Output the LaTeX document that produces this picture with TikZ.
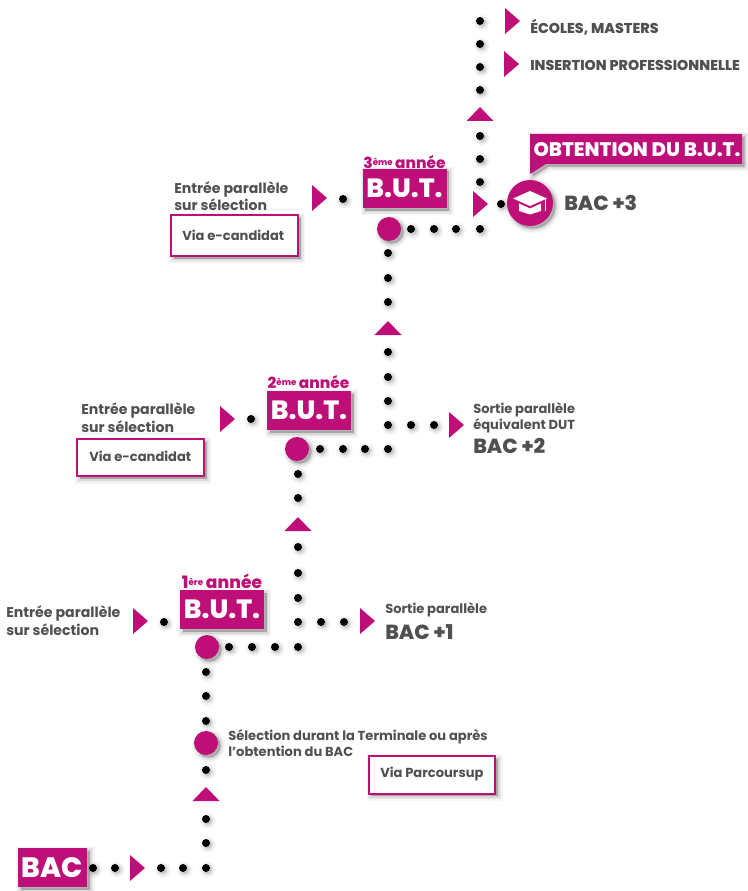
\documentclass[tikz,border=0pt]{standalone}
\usepackage{fontspec}
\setmainfont{Poppins}
\newcommand{\pbold}{\fontspec{Poppins Bold}}
\newcommand{\pxbold}{\fontspec{Poppins ExtraBold}}
\definecolor{mag}{HTML}{BE0F78}
\definecolor{gr}{HTML}{505050}
\tikzset{
  softsh/.style={
    preaction={fill=black,fill opacity=.035,draw=black,draw opacity=.035,line width=7,transform canvas={shift={(#1,-#1)}}},
    preaction={fill=black,fill opacity=.05,draw=black,draw opacity=.05,line width=4.5,transform canvas={shift={(#1,-#1)}}},
    preaction={fill=black,fill opacity=.07,draw=black,draw opacity=.07,line width=2.5,transform canvas={shift={(#1,-#1)}}},
    preaction={fill=black,fill opacity=.1,transform canvas={shift={(#1,-#1)}}}},
  softdot/.style={
    preaction={fill=black,fill opacity=.03,draw=black,draw opacity=.03,line width=6,transform canvas={shift={(#1,-#1)}}},
    preaction={fill=black,fill opacity=.04,draw=black,draw opacity=.04,line width=4,transform canvas={shift={(#1,-#1)}}},
    preaction={fill=black,fill opacity=.05,draw=black,draw opacity=.05,line width=2,transform canvas={shift={(#1,-#1)}}}},
  dotnode/.style={circle,fill=black,minimum size=6pt,inner sep=0,softdot=1.3pt},
  bignode/.style={circle,fill=mag,minimum size=18pt,inner sep=0,softsh=2pt},
  butbox/.style={fill=mag,text=white,minimum width=63pt,minimum height=29.5pt,inner sep=0,font=\pxbold\fontsize{19.8}{22}\selectfont,softsh=2pt},
  anneelab/.style={text=mag,inner sep=0,font=\pxbold\fontsize{11.5}{12}\selectfont},
  body/.style={text=gr,inner sep=0,anchor=west,font=\pbold\fontsize{10.6}{13}\selectfont},
  smallbody/.style={body,font=\pbold\fontsize{9.8}{12}\selectfont},
  capsbody/.style={body,font=\pxbold\fontsize{10.7}{12}\selectfont},
  bigbody/.style={text=gr,inner sep=0,anchor=west,font=\pxbold\fontsize{15.3}{16}\selectfont},
  viabox/.style={draw=mag,line width=1.5pt,fill=white,inner sep=0,softsh=2pt},
  arrowtri/.style={fill=mag,draw=none},
}
\newcommand{\rtri}[2]{\fill[arrowtri] (#1,#2-13) -- (#1+15,#2) -- (#1,#2+13) -- cycle;}
\newcommand{\utri}[2]{\fill[arrowtri] (#1-13.5,#2+7) -- (#1,#2-7) -- (#1+13.5,#2+7) -- cycle;}
\begin{document}
\begin{tikzpicture}[x=0.75pt,y=-0.75pt]
\useasboundingbox (0,0) rectangle (747,891);
% dots
\foreach \x/\y [count=\i] in {
 480/21,480/44,480/67,480/90,480/136,480/159,480/182,480/229,456/229,434/229,411/229,501/204,343/199,
 388/253,388/278,388/302,388/352,388/377,388/401,388/425,411/425,434/425,251/419,
 388/449,365/449,343/449,320/449,298/474,298/498,298/547,298/573,298/598,298/622,321/622,344/622,164/622,
 298/647,275/647,252/647,229/647,206/672,206/696,206/721,206/770,206/819,206/843,206/868,183/868,161/868,115/868,93/868}
  \node[dotnode] (d\i) at (\x,\y) {};
% big circles
\node[bignode] (c3) at (389,229) {};
\node[bignode] (c2) at (297,449) {};
\node[bignode] (c1) at (207,647) {};
\node[bignode] (c0) at (206,743) {};
% triangles
\rtri{505}{21}\rtri{504}{64}\utri{480}{114}\rtri{473}{204}\rtri{312}{198}
\utri{388}{328}\rtri{449}{425}\rtri{220}{419}
\utri{298}{524}\rtri{360}{621}\rtri{133}{621}
\utri{206}{794}\rtri{130}{868}
% top labels
\node[capsbody] (t1) at (530,27) {ÉCOLES, MASTERS};
\node[capsbody] (t2) at (530,65) {INSERTION PROFESSIONNELLE};
% obtention
\fill[mag,softsh=2pt] (530,134) -- (742,134) -- (742,164) -- (546,164) -- (530,174) -- cycle;
\node[text=white,inner sep=0,font=\pxbold\fontsize{14.7}{15}\selectfont] (ob) at (637,149.5) {OBTENTION DU B.U.T.};
% grad
\node[circle,fill=mag,minimum size=34.5pt,inner sep=0,softsh=2pt] (gc) at (530,203) {};
\fill[white] (530,191) -- (547,198.5) -- (530,206) -- (513,198.5) -- cycle;
\fill[white] (519,203.5) -- (530,208.5) -- (541,203.5) -- (541,211) -- (530,214.5) -- (519,211) -- cycle;
\fill[white] (545,199) rectangle (546.2,211);
\node[bigbody] (b3) at (564,203) {BAC +3};
% year 3
\node[anneelab] (a3) at (404.5,162) {3\raisebox{2.2pt}{\fontsize{6.5}{7}\selectfont ème}\,année};
\node[butbox] (u3) at (404.5,188.5) {B.U.T.};
\node[body,align=left] (e3) at (174,196) {Entrée parallèle\\sur sélection};
\node[viabox,minimum width=95pt,minimum height=30.5pt] (v3) at (234.5,235.5) {};
\node[smallbody] (vt3) at (182,235) {Via e-candidat};
% year 2
\node[anneelab] (a2) at (308.5,382) {2\raisebox{2.2pt}{\fontsize{6.5}{7}\selectfont ème}\,année};
\node[butbox] (u2) at (309,410.5) {B.U.T.};
\node[body,align=left] (e2) at (81,417.5) {Entrée parallèle\\sur sélection};
\node[viabox,minimum width=95pt,minimum height=28pt] (v2) at (140.5,457.5) {};
\node[smallbody] (vt2) at (89,456) {Via e-candidat};
\node[smallbody,align=left] (s2) at (473,418) {Sortie parallèle\\équivalent DUT};
\node[bigbody] (b2) at (473,446) {BAC +2};
% year 1
\node[anneelab,font=\pxbold\fontsize{12.8}{13}\selectfont] (a1) at (222,581) {1\raisebox{2.4pt}{\fontsize{6.5}{7}\selectfont ère}\,année};
\node[butbox] (u1) at (222,609.5) {B.U.T.};
\node[body,align=left] (e1) at (6,620.5) {Entrée parallèle\\sur sélection};
\node[smallbody] (s1) at (385,610) {Sortie parallèle};
\node[bigbody] (b1) at (385,632) {BAC +1};
% selection
\node[smallbody,align=left] (se) at (228,743) {Sélection durant la Terminale ou après\\l’obtention du BAC};
\node[viabox,minimum width=95pt,minimum height=28pt] (vp) at (432,775) {};
\node[smallbody] (vt) at (380,774) {Via Parcoursup};
% BAC
\node[fill=mag,text=white,minimum width=52pt,minimum height=29.5pt,inner sep=0,font=\pxbold\fontsize{21}{23}\selectfont,softsh=2pt] (bac) at (52.5,867.5) {BAC};
\end{tikzpicture}
\end{document}
